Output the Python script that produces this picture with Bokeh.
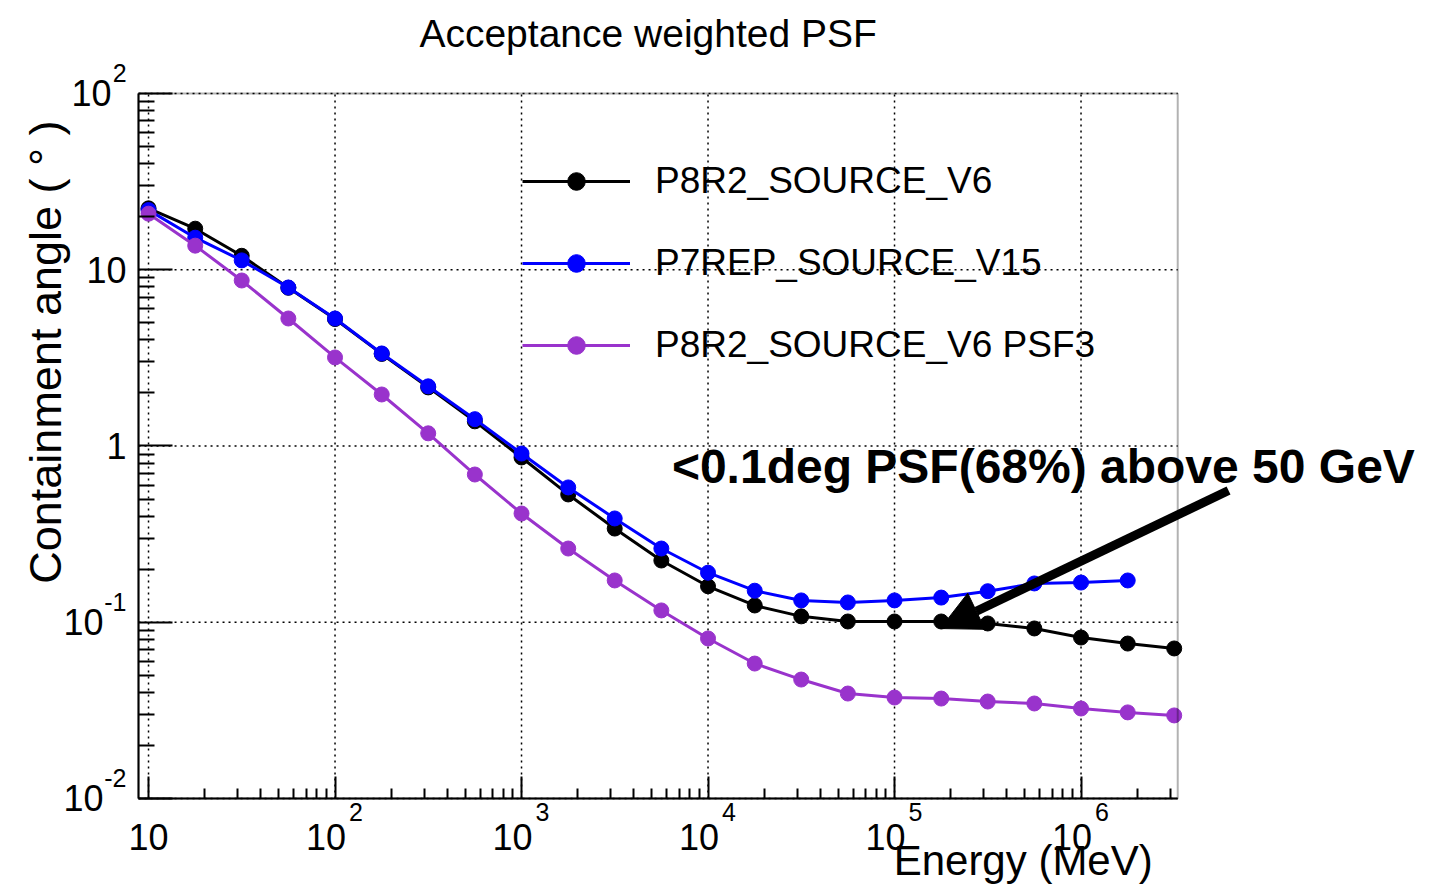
import math
from bokeh.plotting import figure
from bokeh.models import (ColumnDataSource, FixedTicker, CustomJSTickFormatter, Legend, LegendItem,
                          Label, LabelSet, Arrow, NormalHead, Range1d, BoxAnnotation)
from bokeh.core.properties import value
from bokeh.embed import file_html
from bokeh.resources import INLINE

# ---------------- data ----------------
energy_mev = [10, 17.8, 31.6, 56.2, 100, 178, 316, 562, 1000, 1780, 3160, 5620,
              1.0e4, 1.78e4, 3.16e4, 5.62e4, 1.0e5, 1.78e5, 3.16e5, 5.62e5, 1.0e6, 1.78e6, 3.16e6]

p8r2_source_v6 = [22.3, 17.1, 12.0, 7.9, 5.25, 3.33, 2.15, 1.38, 0.861, 0.531, 0.340, 0.224,
                  0.160, 0.1245, 0.108, 0.101, 0.101, 0.101, 0.0984, 0.0922, 0.0819, 0.0757, 0.0710]

p7rep_source_v15 = [21.8, 15.2, 11.3, 7.93, 5.29, 3.35, 2.18, 1.42, 0.906, 0.582, 0.388, 0.262,
                    0.191, 0.151, 0.133, 0.1295, 0.133, 0.138, 0.150, 0.166, 0.168, 0.1726]

p8r2_source_v6_psf3 = [20.8, 13.7, 8.69, 5.29, 3.18, 1.96, 1.18, 0.689, 0.414, 0.262, 0.1726, 0.1167,
                       0.0809, 0.0583, 0.0473, 0.0394, 0.0374, 0.0369, 0.0355, 0.0346, 0.0324, 0.0308, 0.0296]

series_names = ["P8R2_SOURCE_V6", "P7REP_SOURCE_V15", "P8R2_SOURCE_V6 PSF3"]
series_colors = ["#000000", "#0000ff", "#9933cc"]

x_major = [10, 1e2, 1e3, 1e4, 1e5, 1e6]
x_major_exp = ["", "2", "3", "4", "5", "6"]
y_major = [1e-2, 1e-1, 1, 10, 1e2]
y_major_base = ["10", "10", "1", "10", "10"]
y_major_exp = ["-2", "-1", "", "", "2"]
x_minor = [m * 10 ** e for e in range(1, 7) for m in range(2, 10) if m * 10 ** e < 3.3e6]
y_minor = [m * 10.0 ** e for e in range(-2, 2) for m in range(2, 10)]

title_text = "Acceptance weighted PSF"
x_title = "Energy (MeV)"
y_title = "Containment angle (  \u00b0  )"
note_text = "<0.1deg PSF(68%) above 50 GeV"
arrow_start = (6.18e6, 0.559)
arrow_end = (1.76e5, 0.0921)
note_pos = (6.4e3, 0.77)

FONT = "Liberation Sans"

# axes box (data) and the whole canvas expressed in data units
X0, X1 = 8.84, 3.3e6
Y0, Y1 = 0.01, 100
CX0, CX1 = 1.608, 7.48e7
CY0, CY1 = 0.003209, 337.0

p = figure(width=1430, height=885, x_axis_type="log", y_axis_type="log",
           x_range=Range1d(CX0, CX1), y_range=Range1d(CY0, CY1),
           output_backend="svg", toolbar_location=None, title=None,
           min_border=0, background_fill_color="white", border_fill_color="white")
p.outline_line_color = None
p.xgrid.visible = False
p.ygrid.visible = False

# frame box
p.add_layout(BoxAnnotation(left=X0, right=X1, bottom=Y0, top=Y1, fill_color=None,
                           line_color="black", line_width=2, level="overlay"))

# axes placed on the box edges
for ax, majors, minors, mj_in, mn_in, loc, bnds in (
        (p.xaxis[0], x_major, x_minor, 22, 10, Y0, (X0, X1)),
        (p.yaxis[0], y_major, y_minor, 34, 16, X0, (Y0, Y1))):
    ax.fixed_location = loc
    ax.bounds = bnds
    ax.ticker = FixedTicker(ticks=majors, minor_ticks=minors)
    ax.formatter = CustomJSTickFormatter(code="return ''")
    ax.axis_line_width = 2
    ax.axis_line_color = "black"
    ax.major_tick_line_color = "black"
    ax.minor_tick_line_color = "black"
    ax.major_tick_line_width = 2
    ax.minor_tick_line_width = 2
    ax.major_tick_in = mj_in
    ax.major_tick_out = 0
    ax.minor_tick_in = mn_in
    ax.minor_tick_out = 0

# dotted grid at the major ticks, limited to the box
p.segment(x0=x_major, y0=[Y0] * len(x_major), x1=x_major, y1=[Y1] * len(x_major),
          line_color="black", line_width=1.5, line_dash="2 4")
p.segment(x0=[X0] * len(y_major), y0=y_major, x1=[X1] * len(y_major), y1=y_major,
          line_color="black", line_width=1.5, line_dash="2 4")

# ---------------- series ----------------
series_values = [p8r2_source_v6, p7rep_source_v15, p8r2_source_v6_psf3]
legend_items = []
for name, color, vals in zip(series_names, series_colors, series_values):
    src = ColumnDataSource(dict(x=energy_mev[:len(vals)], y=vals))
    ln = p.line("x", "y", source=src, line_color=color, line_width=3)
    sc = p.scatter("x", "y", source=src, size=15, marker="circle",
                   fill_color=color, line_color=color)
    legend_items.append(LegendItem(label=name, renderers=[ln, sc]))

legend = Legend(items=legend_items, location=(522, 518), orientation="vertical",
                glyph_width=108, glyph_height=44, label_height=44, spacing=38,
                label_standoff=25, padding=0, margin=0,
                label_text_font=FONT, label_text_font_size="37px", label_text_color="black",
                border_line_color=None, background_fill_alpha=0)
p.add_layout(legend, "center")

# ---------------- tick labels ----------------
exp_w = {"": 0, "2": 15, "-1": 23, "-2": 23}
ysrc = ColumnDataSource(dict(
    x=[X0] * len(y_major), y=y_major, base=y_major_base, exp=y_major_exp,
    bx=[-12 - exp_w[e] for e in y_major_exp]))
p.add_layout(LabelSet(x="x", y="y", text="base", source=ysrc, x_offset="bx", y_offset=0,
                      text_align="right", text_baseline="middle",
                      text_font=value(FONT), text_font_size="36px", text_color="black"))
p.add_layout(LabelSet(x="x", y="y", text="exp", source=ysrc, x_offset=-12, y_offset=20,
                      text_align="right", text_baseline="middle",
                      text_font=value(FONT), text_font_size="25px", text_color="black"))

xsrc = ColumnDataSource(dict(
    x=x_major, y=[Y0] * len(x_major), base=["10"] * len(x_major), exp=x_major_exp,
    bx=[-9 if e else 0 for e in x_major_exp]))
p.add_layout(LabelSet(x="x", y="y", text="base", source=xsrc, x_offset="bx", y_offset=-39,
                      text_align="center", text_baseline="middle",
                      text_font=value(FONT), text_font_size="36px", text_color="black"))
p.add_layout(LabelSet(x="x", y="y", text="exp", source=xsrc, x_offset=21, y_offset=-14,
                      text_align="center", text_baseline="middle",
                      text_font=value(FONT), text_font_size="25px", text_color="black"))

# ---------------- titles ----------------
p.add_layout(Label(x=math.sqrt(X0 * X1), y=Y1, x_offset=-10, y_offset=60, text=title_text,
                   text_align="center", text_baseline="middle",
                   text_font=FONT, text_font_size="39px", text_color="black"))
p.add_layout(Label(x=X1, y=Y0, x_offset=-25, y_offset=-62, text=x_title,
                   text_align="right", text_baseline="middle",
                   text_font=FONT, text_font_size="42px", text_color="black"))
p.add_layout(Label(x=X0, y=Y1, x_offset=-93, y_offset=-2, text=y_title, angle=math.pi / 2,
                   text_align="right", text_baseline="middle",
                   text_font=FONT, text_font_size="45px", text_color="black"))

# ---------------- annotation ----------------
p.add_layout(Arrow(x_start=arrow_start[0], y_start=arrow_start[1],
                   x_end=arrow_end[0], y_end=arrow_end[1],
                   line_width=9, line_color="black",
                   end=NormalHead(size=40, fill_color="black", line_color="black")))
p.add_layout(Label(x=note_pos[0], y=note_pos[1], text=note_text,
                   text_align="left", text_baseline="middle",
                   text_font=FONT, text_font_size="48px", text_font_style="bold",
                   text_color="black"))

open("out.html", "w").write(file_html(p, INLINE))
